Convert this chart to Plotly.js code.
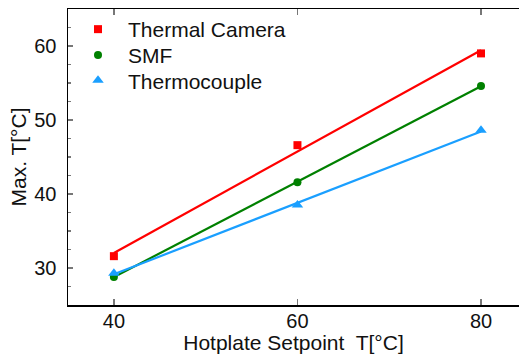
<!DOCTYPE html>
<html>
<head>
<meta charset="utf-8">
<script src="https://cdn.plot.ly/plotly-3.0.1.min.js"></script>
<style>html,body{margin:0;padding:0;background:#fff;}#chart{width:519px;height:358px;}</style>
</head>
<body>
<div id="chart"></div>
<script>
const setpoints = [40, 60, 80];
const thermalCamera = [31.6, 46.6, 59.0];
const smf = [28.8, 41.6, 54.6];
const thermocouple = [29.3, 38.5, 48.6];
const seriesNames = ['Thermal Camera', 'SMF', 'Thermocouple'];
const seriesColors = ['#ff0000', '#008000', '#1a9fff'];
const seriesSymbols = ['square', 'circle', 'triangle-up'];
const seriesSizes = [8, 8, 10];
const xTicks = [40, 60, 80];
const yTicks = [30, 40, 50, 60];

function fit(xs, ys) {
  const n = xs.length;
  const mx = xs.reduce((a, b) => a + b, 0) / n;
  const my = ys.reduce((a, b) => a + b, 0) / n;
  let sxy = 0, sxx = 0;
  for (let i = 0; i < n; i++) { sxy += (xs[i] - mx) * (ys[i] - my); sxx += (xs[i] - mx) ** 2; }
  const b = sxy / sxx, a = my - b * mx;
  const x0 = Math.min(...xs), x1 = Math.max(...xs);
  return { x: [x0, x1], y: [a + b * x0, a + b * x1] };
}

const legendIds = ['legend', 'legend2', 'legend3'];
const allSeries = [thermalCamera, smf, thermocouple];
const traces = [];
allSeries.forEach((ys, i) => {
  const f = fit(setpoints, ys);
  traces.push({
    x: f.x, y: f.y, mode: 'lines', type: 'scatter', showlegend: false, hoverinfo: 'skip',
    line: { color: seriesColors[i], width: 2.2 }
  });
  traces.push({
    x: setpoints, y: ys, mode: 'markers', type: 'scatter', name: seriesNames[i],
    legend: legendIds[i],
    marker: { color: seriesColors[i], symbol: seriesSymbols[i], size: seriesSizes[i] }
  });
});

const font = { family: 'Liberation Sans, Arial, sans-serif', size: 21, color: '#111' };
const tickFont = { family: 'Liberation Sans, Arial, sans-serif', size: 20, color: '#111' };
function legendAt(y) {
  return { x: 0, y: y, xanchor: 'left', yanchor: 'top', bgcolor: 'rgba(0,0,0,0)', font: font, itemwidth: 50 };
}
const layout = {
  width: 519, height: 358,
  margin: { l: 68, r: 0, t: 9, b: 53 },
  paper_bgcolor: '#fff', plot_bgcolor: '#fff',
  font: font,
  showlegend: true,
  legend: legendAt(1.0),
  legend2: legendAt(0.913),
  legend3: legendAt(0.827),
  xaxis: {
    range: [35, 84.14], tickvals: xTicks, ticktext: xTicks.map(String),
    showgrid: false, zeroline: false, showline: true, linecolor: '#000', linewidth: 1.5,
    mirror: 'ticks', ticks: 'inside', ticklen: 6, tickwidth: 1.5, tickcolor: '#777',
    tickfont: tickFont, ticklabelstandoff: -3,
    title: { text: 'Hotplate Setpoint\u00a0 T[°C]', font: font, standoff: 4 }
  },
  yaxis: {
    range: [25, 65], tickvals: yTicks, ticktext: yTicks.map(String),
    showgrid: false, zeroline: false, showline: true, linecolor: '#000', linewidth: 1.5,
    ticks: 'inside', ticklen: 5, tickwidth: 1.5, tickcolor: '#777',
    minor: { dtick: 2.5, tick0: 25, ticks: 'inside', ticklen: 3, tickwidth: 1.2, tickcolor: '#777', showgrid: false },
    tickfont: tickFont, ticklabelstandoff: 6,
    title: { text: 'Max. T[°C]', font: font, standoff: 2 }
  }
};

Plotly.newPlot('chart', traces, layout, { displayModeBar: false, staticPlot: true });
</script>
</body>
</html>
